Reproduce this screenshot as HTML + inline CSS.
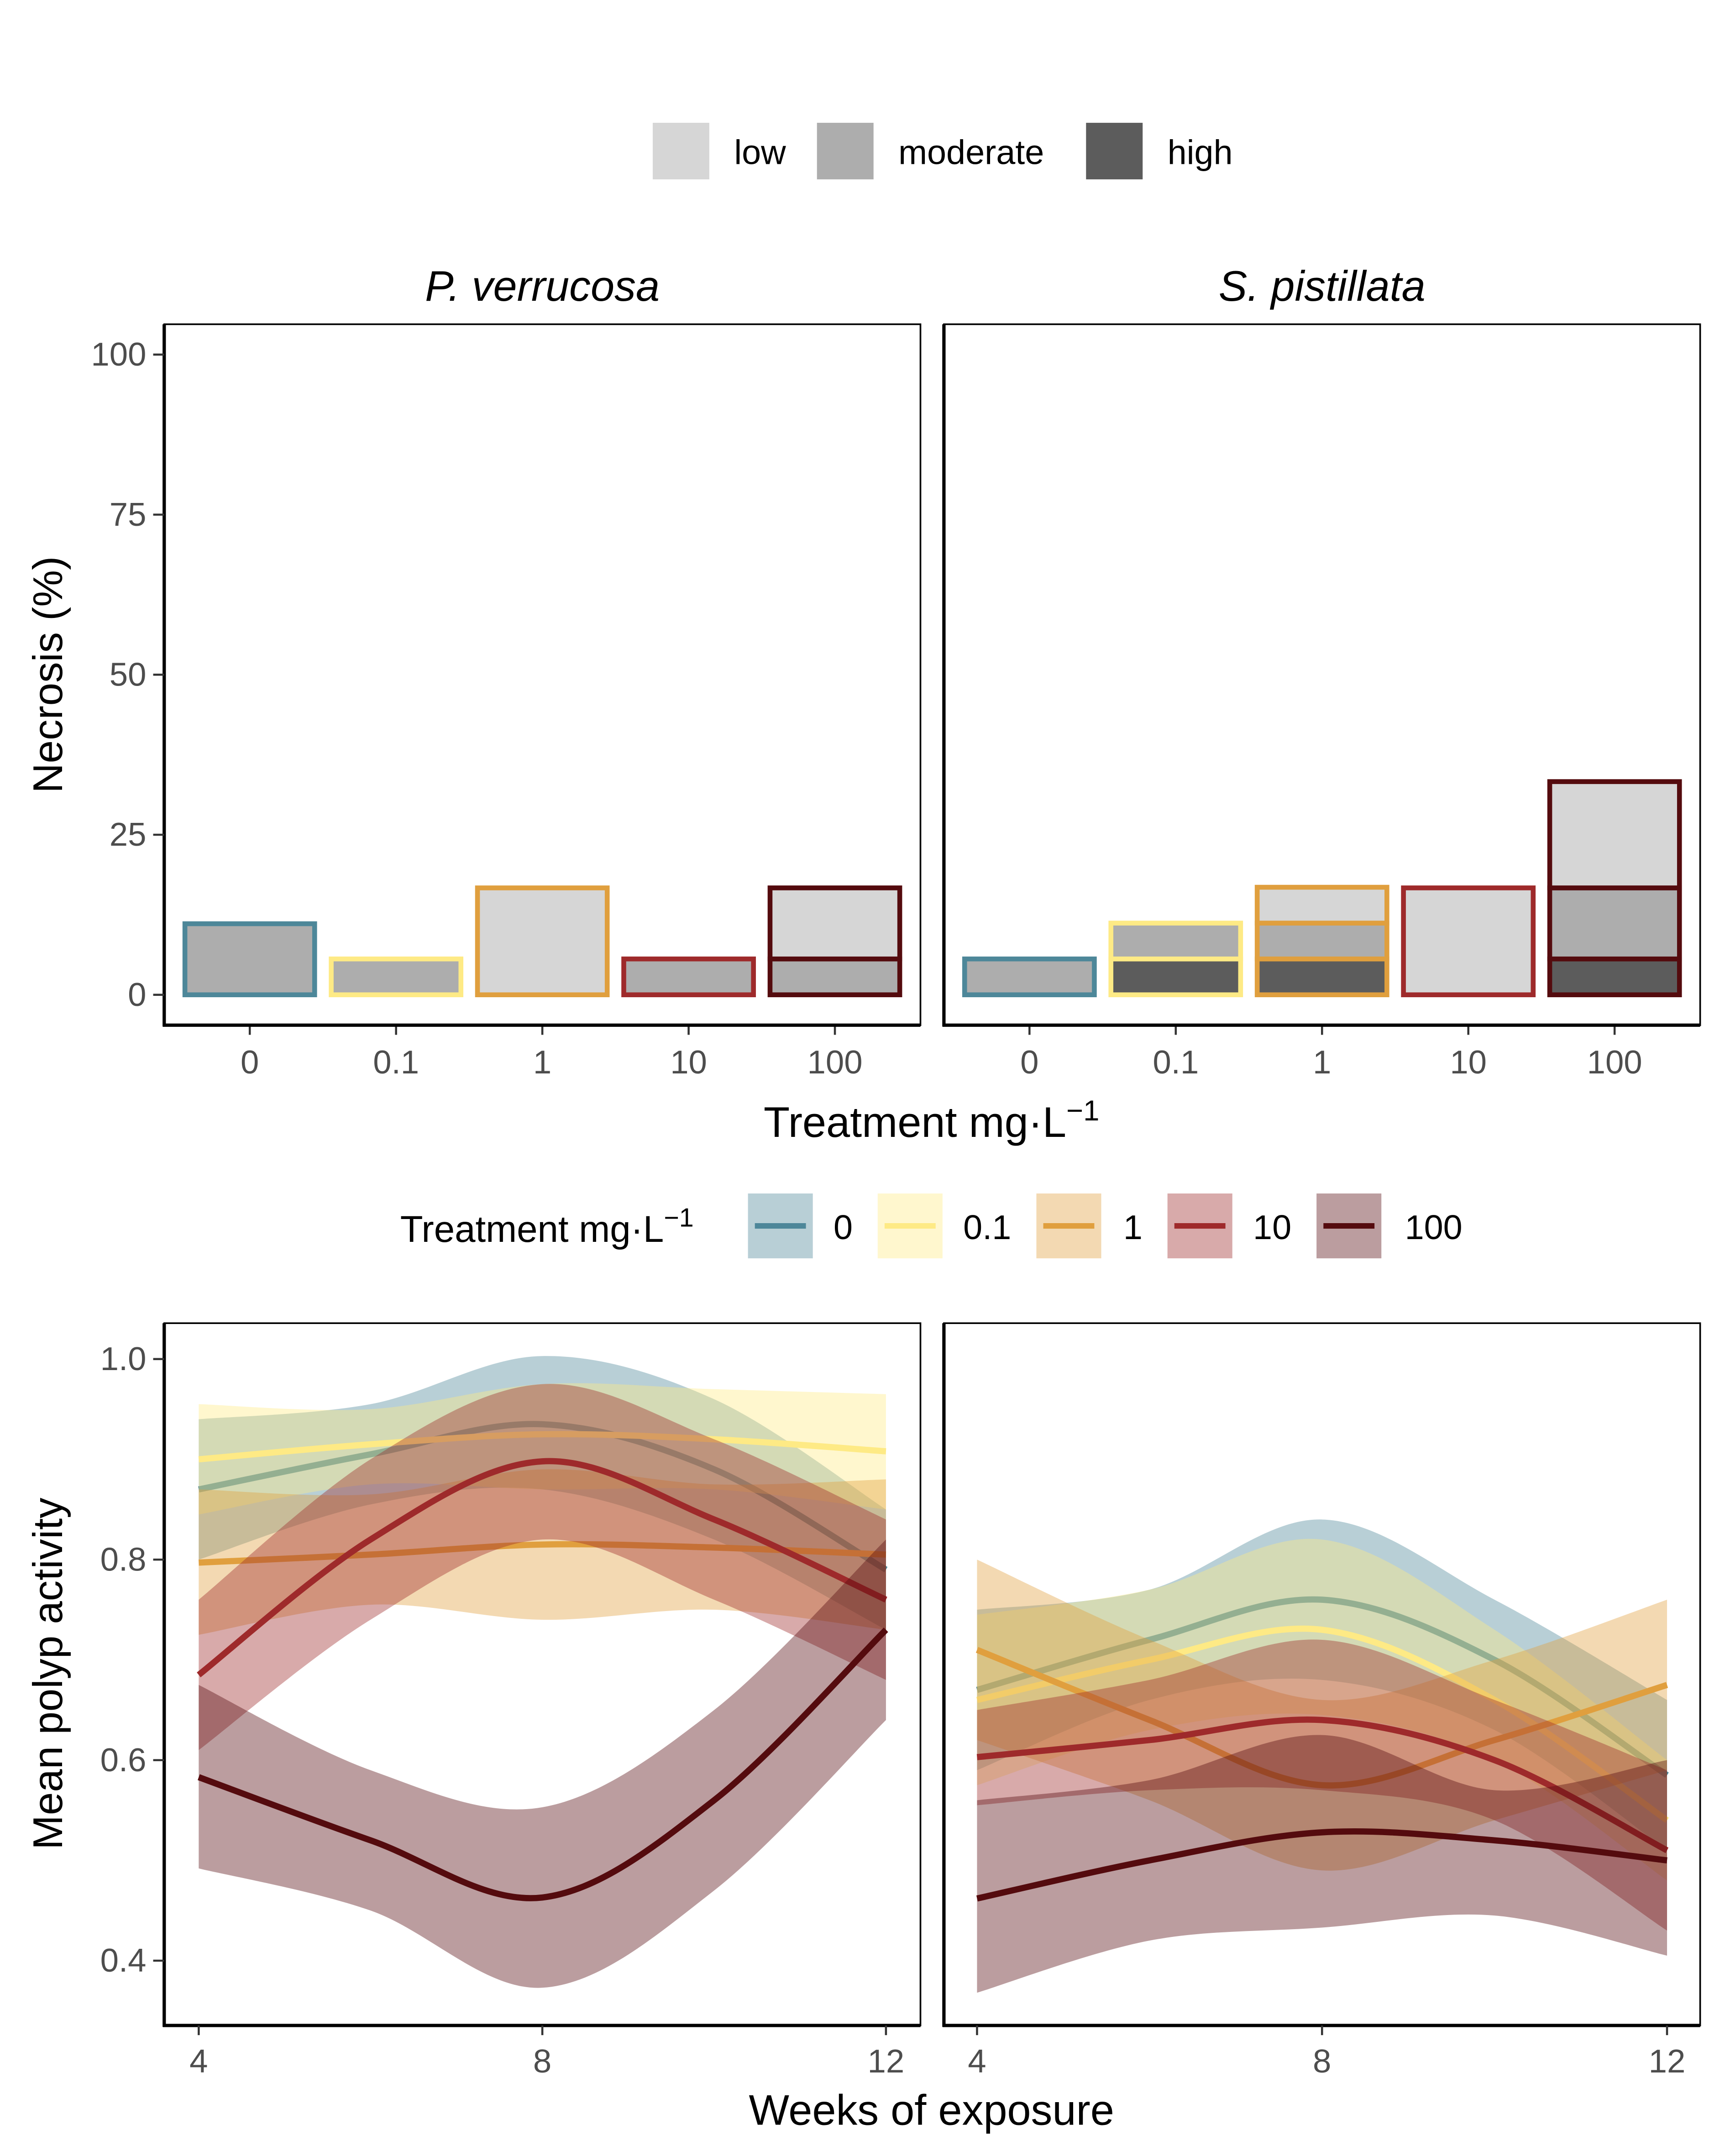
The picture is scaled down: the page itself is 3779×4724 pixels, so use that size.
<!DOCTYPE html>
<html><head><meta charset="utf-8"><style>
html,body{margin:0;padding:0;background:#fff}
svg{display:block}
text{font-family:"Liberation Sans",Arial,sans-serif}
</style></head><body>
<svg id="fig" width="3779" height="4724" viewBox="0 0 1250 1562.6" preserveAspectRatio="none" xmlns="http://www.w3.org/2000/svg">
<g id="topg"></g><g id="botg"></g>
</svg>
<script>
// ---- Bar chart data (necrosis %) ----
const treatments = ["0","0.1","1","10","100"];
const levels = ["high","moderate","low"];
const pvHigh = [0,0,0,0,0];
const pvModerate = [11.1,5.6,0,5.6,5.6];
const pvLow = [0,0,16.7,0,11.1];
const spHigh = [0,5.6,5.6,0,5.6];
const spModerate = [5.6,5.6,5.6,0,11.1];
const spLow = [0,0,5.6,16.7,16.6];
const necTicks = [0,25,50,75,100];
// ---- Line chart data (mean polyp activity), weeks ----
const weeks = [4,6,8,10,12];
const actTicks = [0.4,0.6,0.8,1.0];
const weekTicks = [4,8,12];
// P. verrucosa
const pv0 = [0.87,0.905,0.935,0.89,0.79], pv0Lo=[0.80,0.855,0.87,0.82,0.73], pv0Hi=[0.94,0.955,1.003,0.96,0.85];
const pv01 = [0.90,0.915,0.925,0.92,0.908], pv01Lo=[0.845,0.875,0.87,0.87,0.85], pv01Hi=[0.955,0.95,0.975,0.97,0.965];
const pv1 = [0.797,0.805,0.815,0.812,0.805], pv1Lo=[0.725,0.755,0.74,0.75,0.73], pv1Hi=[0.87,0.865,0.89,0.875,0.88];
const pv10 = [0.685,0.82,0.898,0.84,0.76], pv10Lo=[0.61,0.74,0.82,0.76,0.68], pv10Hi=[0.76,0.90,0.975,0.92,0.84];
const pv100 = [0.583,0.52,0.463,0.56,0.73], pv100Lo=[0.492,0.45,0.373,0.47,0.64], pv100Hi=[0.675,0.59,0.553,0.65,0.82];
// S. pistillata
const sp0 = [0.67,0.72,0.76,0.70,0.585], sp0Lo=[0.59,0.66,0.68,0.63,0.51], sp0Hi=[0.75,0.77,0.84,0.76,0.66];
const sp01 = [0.66,0.70,0.73,0.66,0.54], sp01Lo=[0.575,0.63,0.645,0.60,0.48], sp01Hi=[0.745,0.77,0.82,0.73,0.60];
const sp1 = [0.71,0.64,0.575,0.62,0.675], sp1Lo=[0.62,0.56,0.49,0.54,0.59], sp1Hi=[0.80,0.72,0.66,0.70,0.76];
const sp10 = [0.603,0.62,0.64,0.60,0.51], sp10Lo=[0.555,0.57,0.57,0.54,0.43], sp10Hi=[0.65,0.68,0.72,0.66,0.59];
const sp100 = [0.462,0.50,0.528,0.52,0.50], sp100Lo=[0.368,0.42,0.433,0.445,0.405], sp100Hi=[0.56,0.58,0.625,0.57,0.60];

const cols = ["#4d8799","#feea85","#e09f3e","#9e2a2b","#540b0e"];
const fills = {low:"#d6d6d6",moderate:"#adadad",high:"#5c5c5c"};
const NS="http://www.w3.org/2000/svg";
function mk(tag,attrs,parent,txt){const e=document.createElementNS(NS,tag);for(const k in attrs)e.setAttribute(k,attrs[k]);if(txt!==undefined)e.textContent=txt;parent.appendChild(e);return e;}
const gTop=document.getElementById('topg'), gBot=document.getElementById('botg');

// Top legend
const legItems=[["low",473,532],["moderate",592,651],["high",787,846]];
legItems.forEach(it=>{
  const r=mk('rect',{x:it[1],y:89,width:41,height:41,fill:fills[it[0]]},gTop);
  
  
  const t=mk('text',{x:it[2],y:119,'font-size':25,fill:'#000'},gTop,it[0]);
  
  
});

function panelFrame(g,x0,x1,y0,y1,name){
  const r=mk('rect',{x:x0,y:y0,width:x1-x0,height:y1-y0,fill:'none',stroke:'#000','stroke-width':1.2},g);
  
  
  mk('line',{x1:x0,y1:y0,x2:x0,y2:y1+1,stroke:'#000','stroke-width':2.4},g);
  mk('line',{x1:x0-1,y1:y1,x2:x1,y2:y1,stroke:'#000','stroke-width':2.4},g);
}

// Bars
const panelsTop=[{x0:119,x1:667,name:'pv',title:'P. verrucosa',data:[pvHigh,pvModerate,pvLow]},{x0:684,x1:1232,name:'sp',title:'S. pistillata',data:[spHigh,spModerate,spLow]}];
const yN=v=>721-v*4.64;
panelsTop.forEach((p,pi)=>{
  const g=mk('g',{},gTop);
  
  
  const st=mk('text',{x:(p.x0+p.x1)/2,y:218,'font-size':31,'font-style':'italic','text-anchor':'middle'},g,p.title);
  
  
  const xc=i=>p.x0+62+i*106;
  treatments.forEach((tr,i)=>{
    let base=0;
    levels.forEach((lv,li)=>{
      const v=p.data[li][i];
      if(v>0){
        const r=mk('rect',{x:xc(i)-47,y:yN(base+v),width:94,height:yN(base)-yN(base+v),fill:fills[lv],stroke:cols[i],'stroke-width':3.5},g);
        
        
      }
      base+=v;
    });
    mk('line',{x1:xc(i),y1:743,x2:xc(i),y2:750,stroke:'#333','stroke-width':1.5},g);
    const t=mk('text',{x:xc(i),y:778,'font-size':24,fill:'#4d4d4d','text-anchor':'middle'},g,tr);
    
    
  });
  panelFrame(g,p.x0,p.x1,235,743,'necrosis-'+p.name);
  if(pi===0){
    necTicks.forEach(v=>{
      mk('line',{x1:111,y1:yN(v),x2:119,y2:yN(v),stroke:'#333','stroke-width':1.5},g);
      const t=mk('text',{x:106,y:yN(v)+8,'font-size':24,fill:'#4d4d4d','text-anchor':'end'},g,String(v));
      
      
    });
  }
});
let tt=mk('text',{x:0,y:0,'font-size':30,'text-anchor':'middle',transform:'translate(45,489) rotate(-90)'},gTop,'Necrosis (%)');


tt=mk('text',{x:675,y:824,'font-size':31,'text-anchor':'middle'},gTop);


mk('tspan',{},tt,'Treatment mg·L');
mk('tspan',{dy:-12,'font-size':21},tt,'−1');

// Line legend
tt=mk('text',{x:290,y:900,'font-size':27},gBot);


mk('tspan',{},tt,'Treatment mg·L');
mk('tspan',{dy:-11,'font-size':19},tt,'−1');
const legX=[[542,604],[636,698],[751,814],[846,908],[954,1018]];
treatments.forEach((tr,i)=>{
  const r=mk('rect',{x:legX[i][0],y:865,width:47,height:47,fill:cols[i],'fill-opacity':0.4},gBot);
  
  
  mk('line',{x1:legX[i][0]+5,y1:888.5,x2:legX[i][0]+42,y2:888.5,stroke:cols[i],'stroke-width':4},gBot);
  const tx=mk('text',{x:legX[i][1],y:898,'font-size':25},gBot,tr);
  
  
});

// Line panels
const yA=v=>985-(v-1)*726.7;
function curveSegs(pts){
  let d='';
  for(let i=0;i<pts.length-1;i++){
    const p0=pts[i-1]||pts[i],p1=pts[i],p2=pts[i+1],p3=pts[i+2]||p2;
    const c1=[p1[0]+(p2[0]-p0[0])/6,p1[1]+(p2[1]-p0[1])/6];
    const c2=[p2[0]-(p3[0]-p1[0])/6,p2[1]-(p3[1]-p1[1])/6];
    d+=' C'+c1[0]+','+c1[1]+' '+c2[0]+','+c2[1]+' '+p2[0]+','+p2[1];
  }
  return d;
}
const panelsBot=[
 {x0:119,x1:667,xs:w=>144+(w-4)*62.25,name:'pv',series:[[pv0,pv0Lo,pv0Hi],[pv01,pv01Lo,pv01Hi],[pv1,pv1Lo,pv1Hi],[pv10,pv10Lo,pv10Hi],[pv100,pv100Lo,pv100Hi]]},
 {x0:684,x1:1232,xs:w=>708+(w-4)*62.5,name:'sp',series:[[sp0,sp0Lo,sp0Hi],[sp01,sp01Lo,sp01Hi],[sp1,sp1Lo,sp1Hi],[sp10,sp10Lo,sp10Hi],[sp100,sp100Lo,sp100Hi]]}
];
panelsBot.forEach((p,pi)=>{
  const g=mk('g',{},gBot);
  
  
  p.series.forEach((s,i)=>{
    const hi=weeks.map((w,k)=>[p.xs(w),yA(s[2][k])]);
    const lo=weeks.map((w,k)=>[p.xs(w),yA(s[1][k])]).reverse();
    const d='M'+hi[0][0]+','+hi[0][1]+curveSegs(hi)+' L'+lo[0][0]+','+lo[0][1]+curveSegs(lo)+' Z';
    const r=mk('path',{d:d,fill:cols[i],'fill-opacity':0.4,stroke:'none'},g);
    
    
    const pts=weeks.map((w,k)=>[p.xs(w),yA(s[0][k])]);
    const l=mk('path',{d:'M'+pts[0][0]+','+pts[0][1]+curveSegs(pts),fill:'none',stroke:cols[i],'stroke-width':4.5},g);
    
    
  });
  panelFrame(g,p.x0,p.x1,959,1468,'activity-'+p.name);
  weekTicks.forEach(w=>{
    mk('line',{x1:p.xs(w),y1:1468,x2:p.xs(w),y2:1475,stroke:'#333','stroke-width':1.5},g);
    const tx=mk('text',{x:p.xs(w),y:1502,'font-size':24,fill:'#4d4d4d','text-anchor':'middle'},g,String(w));
    
    
  });
  if(pi===0){
    actTicks.forEach(v=>{
      mk('line',{x1:111,y1:yA(v),x2:119,y2:yA(v),stroke:'#333','stroke-width':1.5},g);
      const tx=mk('text',{x:106,y:yA(v)+8,'font-size':24,fill:'#4d4d4d','text-anchor':'end'},g,v.toFixed(1));
      
      
    });
  }
});
tt=mk('text',{x:0,y:0,'font-size':30,'text-anchor':'middle',transform:'translate(45,1213) rotate(-90)'},gBot,'Mean polyp activity');


tt=mk('text',{x:675,y:1540,'font-size':31,'text-anchor':'middle'},gBot,'Weeks of exposure');


</script>
</body></html>
